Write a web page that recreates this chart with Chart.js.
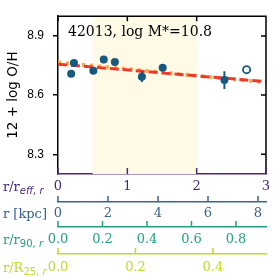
<!DOCTYPE html>
<html>
<head>
<meta charset="utf-8">
<script src="https://cdn.jsdelivr.net/npm/chart.js@4.4.0/dist/chart.umd.min.js"></script>
<style>
  html, body { margin: 0; padding: 0; background: #fff; }
  canvas { display: block; }
</style>
</head>
<body>
<canvas id="ohProfile" width="277" height="277"></canvas>
<script>
const galaxyLabel = '42013, log M*=10.8';

// radial bins (r / r_eff) and 12 + log O/H
const radius = [0.19, 0.23, 0.51, 0.66, 0.82, 1.21, 1.51, 2.40];
const oh     = [8.708, 8.763, 8.724, 8.781, 8.768, 8.693, 8.739, 8.676];
const ohErr  = [0.012, 0.012, 0.012, 0.012, 0.012, 0.027, 0.012, 0.045];

// bin left out of the fit
const outRadius = [2.72];
const outOh     = [8.729];

// gradient fits
const fitX      = [0, 3];
const fitRed    = [8.757, 8.668];
const fitOrange = [8.766, 8.664];

const shadeRange = [0.5, 2.0];

const reffRange = [0, 3];
const kpcRange  = [0, 8.32];
const r90Range  = [0, 0.935];
const r25Range  = [0, 0.537];
const ohRange   = [8.2, 9.0];

const reffTicks = [0, 1, 2, 3];
const kpcTicks  = [0, 2, 4, 6, 8];
const r90Ticks  = [0, 0.2, 0.4, 0.6, 0.8];
const r25Ticks  = [0, 0.2, 0.4];
const ohTicks   = [8.3, 8.6, 8.9];

const C = {
    point:  '#17597f',
    red:    '#ea3b2c',
    orange: '#fbaa4e',
    shade:  '#fffae6',
    reff:   '#4a2878',
    kpc:    '#3a6391',
    r90:    '#24a07f',
    r25:    '#bcdb2a',
};

const SERIF = 'DejaVu Serif';
const SANS  = 'DejaVu Sans';

const sideLabels = [
    { axis: 'x',   color: C.reff, parts: [['r/r', 'n'], ['eff, r', 'si']] },
    { axis: 'kpc', color: C.kpc,  parts: [['r [kpc]', 'n']] },
    { axis: 'r90', color: C.r90,  parts: [['r/r', 'n'], ['90, ', 's'], ['r', 'si']] },
    { axis: 'r25', color: C.r25,  parts: [['r/R', 'n'], ['25, ', 's'], ['r', 'si']] },
];
const partFont = {
    n:  `13px "${SERIF}"`,
    s:  `10px "${SANS}"`,
    si: `italic 10px "${SANS}"`,
};

const setTicks = list => s => { s.ticks = list.map(v => ({ value: v })); };

function bottomAxis(range, ticks, color, weight, height, pad, decimals) {
    return {
        type: 'linear', position: 'bottom', weight,
        min: range[0], max: range[1],
        afterBuildTicks: setTicks(ticks),
        afterFit: s => { s.height = height; },
        border: { display: true, color, width: 1.5 },
        grid: { drawOnChartArea: false, drawTicks: false },
        ticks: {
            color, padding: pad, autoSkip: false, maxRotation: 0,
            font: { family: SERIF, size: 13 },
            callback: v => v.toFixed(decimals),
        },
    };
}

const shadePlugin = {
    id: 'shade',
    beforeDatasetsDraw(chart) {
        const { ctx, chartArea: a, scales: { x } } = chart;
        const x0 = x.getPixelForValue(shadeRange[0]);
        const x1 = x.getPixelForValue(shadeRange[1]);
        ctx.save();
        ctx.fillStyle = C.shade;
        ctx.fillRect(x0, a.top, x1 - x0, a.bottom - a.top);
        ctx.restore();
    },
    afterDatasetDraw(chart, args) {
        // error bars go above the fit lines, below the markers
        if (args.index !== 1) return;
        const { ctx, scales: { x, y } } = chart;
        ctx.save();
        ctx.strokeStyle = C.point;
        ctx.lineWidth = 2;
        radius.forEach((r, i) => {
            const px = x.getPixelForValue(r);
            ctx.beginPath();
            ctx.moveTo(px, y.getPixelForValue(oh[i] - ohErr[i]));
            ctx.lineTo(px, y.getPixelForValue(oh[i] + ohErr[i]));
            ctx.stroke();
        });
        ctx.restore();
    },
};

const framePlugin = {
    id: 'frame',
    afterDraw(chart) {
        const { ctx, chartArea: a, scales } = chart;
        const { x, y } = scales;
        ctx.save();
        ctx.lineWidth = 1.5;

        // top and right spines with inward ticks
        ctx.strokeStyle = '#000';
        ctx.beginPath();
        ctx.moveTo(a.left, a.top);
        ctx.lineTo(a.right, a.top);
        ctx.lineTo(a.right, a.bottom);
        reffTicks.forEach(v => {
            const px = x.getPixelForValue(v);
            ctx.moveTo(px, a.top);
            ctx.lineTo(px, a.top + 5);
        });
        ohTicks.forEach(v => {
            const py = y.getPixelForValue(v);
            ctx.moveTo(a.right, py);
            ctx.lineTo(a.right - 5, py);
        });
        ctx.stroke();

        // upward ticks on every bottom axis
        [['x', reffTicks, C.reff], ['kpc', kpcTicks, C.kpc],
         ['r90', r90Ticks, C.r90], ['r25', r25Ticks, C.r25]].forEach(([id, list, col]) => {
            const s = scales[id];
            ctx.strokeStyle = col;
            ctx.beginPath();
            list.forEach(v => {
                const px = s.getPixelForValue(v);
                ctx.moveTo(px, s.top);
                ctx.lineTo(px, s.top - 6);
            });
            ctx.stroke();
        });

        // galaxy id
        ctx.fillStyle = '#000';
        ctx.font = `14px "${SERIF}"`;
        ctx.textBaseline = 'alphabetic';
        ctx.fillText(galaxyLabel, a.left + 10, a.top + 20);

        // names of the bottom axes
        sideLabels.forEach(lab => {
            const s = scales[lab.axis];
            const base = s.top + s.options.ticks.padding + 7.8 + 4.6;
            let px = 3;
            ctx.fillStyle = lab.color;
            lab.parts.forEach(([txt, kind]) => {
                ctx.font = partFont[kind];
                ctx.fillText(txt, px, kind === 'n' ? base : base + 3);
                px += ctx.measureText(txt).width;
            });
        });
        ctx.restore();
    },
};

new Chart(document.getElementById('ohProfile').getContext('2d'), {
    type: 'scatter',
    data: {
        datasets: [
            {
                data: radius.map((r, i) => ({ x: r, y: oh[i] })),
                backgroundColor: C.point,
                borderWidth: 0,
                pointRadius: 4,
                order: 0,
            },
            {
                type: 'line',
                data: fitX.map((v, i) => ({ x: v, y: fitRed[i] })),
                borderColor: C.red,
                borderWidth: 3,
                borderDash: [9, 4],
                pointRadius: 0,
                order: 1,
            },
            {
                type: 'line',
                data: fitX.map((v, i) => ({ x: v, y: fitOrange[i] })),
                borderColor: C.orange,
                borderWidth: 4,
                borderDash: [3, 5],
                pointRadius: 0,
                order: 2,
            },
            {
                data: outRadius.map((r, i) => ({ x: r, y: outOh[i] })),
                backgroundColor: 'rgba(0,0,0,0)',
                borderColor: C.point,
                borderWidth: 1.8,
                pointRadius: 3.6,
                order: 0,
            },
        ],
    },
    options: {
        responsive: false,
        animation: false,
        devicePixelRatio: 1,
        layout: { padding: { top: 16, right: 11, left: 0, bottom: 0 } },
        plugins: { legend: { display: false }, tooltip: { enabled: false } },
        scales: {
            x:   bottomAxis(reffRange, reffTicks, C.reff, 0, 28, 5, 0),
            kpc: bottomAxis(kpcRange, kpcTicks, C.kpc, 1, 25, 4, 0),
            r90: bottomAxis(r90Range, r90Ticks, C.r90, 2, 27, 5, 1),
            r25: bottomAxis(r25Range, r25Ticks, C.r25, 3, 23, 6, 1),
            y: {
                type: 'linear', position: 'left',
                min: ohRange[0], max: ohRange[1],
                afterBuildTicks: setTicks(ohTicks),
                afterFit: s => { s.width = 58; },
                border: { color: '#000', width: 1.5 },
                grid: { drawOnChartArea: false, drawTicks: true, tickLength: 5, color: '#000', lineWidth: 1.5 },
                ticks: {
                    color: '#000', padding: 9,
                    font: { family: 'Liberation Sans', size: 12 },
                    callback: v => v.toFixed(1),
                },
                title: {
                    display: true, text: '12 + log O/H', color: '#000',
                    font: { family: SANS, size: 13.5 },
                    padding: { top: 5, bottom: 0 },
                },
            },
        },
    },
    plugins: [shadePlugin, framePlugin],
});
</script>
</body>
</html>
